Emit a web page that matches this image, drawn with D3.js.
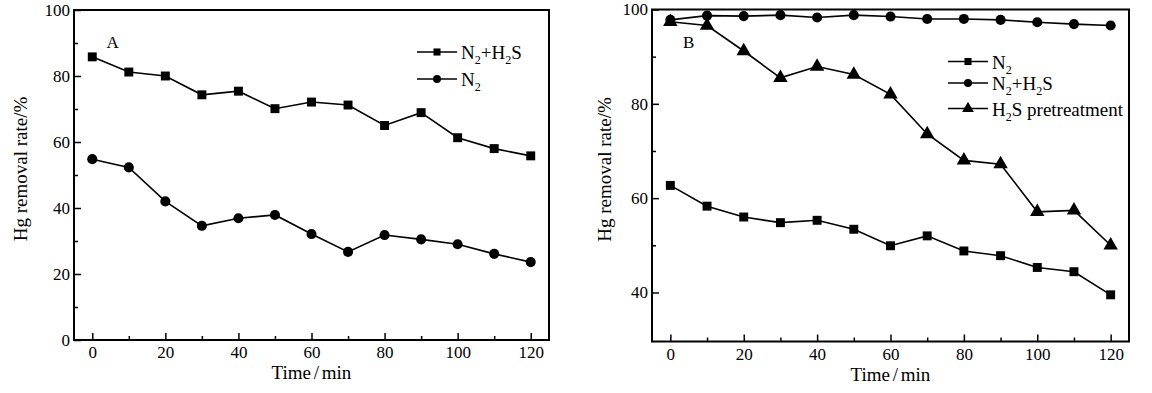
<!DOCTYPE html>
<html>
<head>
<meta charset="utf-8">
<script src="https://cdn.jsdelivr.net/npm/d3@7"></script>
<style>
  body { margin: 0; background: #fff; }
  svg text { font-family: "Liberation Serif", "Times New Roman", serif; fill: #000; }
</style>
</head>
<body>
<svg id="chart" width="1152" height="393"></svg>
<script>
// sampling times (min)
const timeMin = [0, 10, 20, 30, 40, 50, 60, 70, 80, 90, 100, 110, 120];

// panel A
const aN2H2S = [85.8, 81.2, 80.0, 74.3, 75.4, 70.1, 72.1, 71.2, 65.0, 68.9, 61.3, 58.0, 55.8];
const aN2 = [54.8, 52.3, 42.0, 34.6, 36.9, 37.9, 32.1, 26.7, 31.8, 30.5, 29.0, 26.1, 23.6];

// panel B
const bN2 = [62.7, 58.3, 56.0, 54.8, 55.3, 53.4, 49.9, 52.0, 48.8, 47.8, 45.3, 44.4, 39.5];
const bN2H2S = [97.8, 98.7, 98.6, 98.8, 98.3, 98.8, 98.5, 98.0, 98.0, 97.8, 97.3, 96.9, 96.6];
const bH2SPre = [97.4, 96.6, 91.2, 85.5, 87.9, 86.2, 82.0, 73.6, 68.0, 67.2, 57.1, 57.4, 50.0];

// ticks
const xTicks = [0, 20, 40, 60, 80, 100, 120];
const xMinor = [10, 30, 50, 70, 90, 110];
const aYTicks = [0, 20, 40, 60, 80, 100];
const aYMinor = [10, 30, 50, 70, 90];
const bYTicks = [40, 60, 80, 100];
const bYMinor = [50, 70, 90];

const svg = d3.select("#chart");
const tickFont = 17;
const titleFont = 19;

// write text with "_2" style subscripts
function richText(sel, str) {
  const parts = str.split(/(_\d)/).filter(p => p !== "");
  let down = false;
  parts.forEach(p => {
    if (p[0] === "_") {
      sel.append("tspan").attr("font-size", 12).attr("dy", 5).text(p.slice(1));
      down = true;
    } else {
      sel.append("tspan").attr("dy", down ? -5 : 0).text(p);
      down = false;
    }
  });
}

const symbols = {
  square: d3.symbolSquare,
  circle: d3.symbolCircle,
  triangle: d3.symbolTriangle
};

function drawPanel(opt) {
  const g = svg.append("g").attr("transform", `translate(${opt.left},${opt.top})`);
  const w = opt.width, h = opt.height;

  const x = d3.scaleLinear().domain([-5, 125]).range([0, w]);
  const y = d3.scaleLinear().domain(opt.yDomain).range([h, 0]);

  // x axis, inward ticks
  g.append("g").attr("transform", `translate(0,${h})`)
    .call(d3.axisBottom(x).tickValues(xTicks).tickSize(-7).tickPadding(6));
  g.append("g").attr("transform", `translate(0,${h})`)
    .call(d3.axisBottom(x).tickValues(xMinor).tickSize(-4).tickFormat(""));

  // y axis
  g.append("g")
    .call(d3.axisLeft(y).tickValues(opt.yTicks).tickSize(-7).tickPadding(4));
  g.append("g")
    .call(d3.axisLeft(y).tickValues(opt.yMinor).tickSize(-4).tickFormat(""));

  g.selectAll(".domain").remove();
  g.selectAll(".tick line").attr("stroke", "#000").attr("stroke-width", 1.5);
  g.selectAll(".tick text").attr("font-size", tickFont).attr("fill", "#000");

  // frame
  g.append("rect")
    .attr("width", w).attr("height", h)
    .attr("fill", "none").attr("stroke", "#000").attr("stroke-width", 2);

  // axis titles
  g.append("text")
    .attr("x", w / 2).attr("y", h + 39)
    .attr("text-anchor", "middle").attr("font-size", titleFont)
    .attr("word-spacing", -2)
    .text("Time / min");
  g.append("text")
    .attr("transform", `translate(${opt.yTitleX},${h / 2 - 6}) rotate(-90)`)
    .attr("text-anchor", "middle").attr("font-size", titleFont)
    .text("Hg removal rate/%");

  // panel letter
  g.append("text")
    .attr("x", x(opt.letterPos[0])).attr("y", y(opt.letterPos[1]))
    .attr("font-size", tickFont).text(opt.letter);

  const line = d3.line().x((d, i) => x(timeMin[i])).y(d => y(d));

  opt.series.forEach(s => {
    g.append("path")
      .datum(s.values)
      .attr("fill", "none").attr("stroke", "#000").attr("stroke-width", 1.6)
      .attr("d", line);
    g.selectAll(null)
      .data(s.values)
      .enter().append("path")
      .attr("transform", (d, i) => `translate(${x(timeMin[i])},${y(d)})`)
      .attr("d", d3.symbol().type(symbols[s.marker]).size(s.marker === "triangle" ? 90 : 80))
      .attr("fill", "#000");
  });

  // legend
  const lg = g.append("g").attr("transform", `translate(${opt.legend.x},${opt.legend.y})`);
  opt.legend.order.forEach((idx, k) => {
    const s = opt.series[idx];
    const row = lg.append("g").attr("transform", `translate(0,${opt.legend.rows[k]})`);
    row.append("line").attr("x1", 0).attr("x2", 40).attr("stroke", "#000").attr("stroke-width", 1.6);
    row.append("path")
      .attr("transform", "translate(20,0)")
      .attr("d", d3.symbol().type(symbols[s.marker]).size(s.marker === "triangle" ? 60 : 50))
      .attr("fill", "#000");
    const t = row.append("text").attr("x", 44).attr("y", 7).attr("font-size", titleFont);
    richText(t, s.name);
  });
}

drawPanel({
  left: 74, top: 10, width: 475, height: 330,
  yDomain: [0, 100], yTicks: aYTicks, yMinor: aYMinor,
  yTitleX: -47, letter: "A", letterPos: [3.9, 88.5],
  series: [
    { name: "N_2+H_2S", values: aN2H2S, marker: "square" },
    { name: "N_2", values: aN2, marker: "circle" }
  ],
  legend: { x: 343, y: 0, order: [0, 1], rows: [42, 69] }
});

drawPanel({
  left: 652, top: 9.5, width: 477, height: 332,
  yDomain: [29.6, 100], yTicks: bYTicks, yMinor: bYMinor,
  yTitleX: -41, letter: "B", letterPos: [3.45, 91.8],
  series: [
    { name: "N_2", values: bN2, marker: "square" },
    { name: "N_2+H_2S", values: bN2H2S, marker: "circle" },
    { name: "H_2S pretreatment", values: bH2SPre, marker: "triangle" }
  ],
  legend: { x: 296, y: 0, order: [0, 1, 2], rows: [52, 73.5, 99] }
});
</script>
</body>
</html>
